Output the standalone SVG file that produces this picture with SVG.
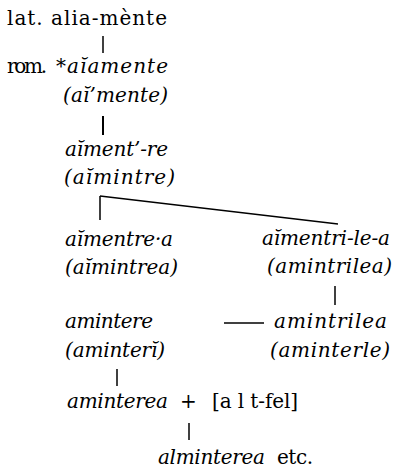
<svg xmlns="http://www.w3.org/2000/svg" width="394" height="470" viewBox="0 0 394 470">
<style>
text{font-family:"DejaVu Serif","Liberation Serif",serif;font-size:20px;fill:#000}
.i{font-style:italic}
.c line{stroke:#000;stroke-width:1.5;fill:none}
</style>
<rect width="394" height="470" fill="#fff"/>
<g class="c" id="connectors">
<line x1="103" y1="36" x2="103" y2="53"/>
<line x1="103" y1="116" x2="103" y2="135" style="stroke-width:2"/>
<line x1="100" y1="196" x2="100" y2="220"/>
<line x1="100" y1="196" x2="338" y2="224"/>
<line x1="335" y1="286" x2="335" y2="305"/>
<line x1="224" y1="323" x2="264" y2="323"/>
<line x1="117" y1="369" x2="117" y2="386"/>
<line x1="189" y1="423" x2="189" y2="440"/>
</g>
<g id="n1"><text x="7" y="25" textLength="160">lat. alia-mènte</text></g>
<g id="n2"><text x="7" y="73" textLength="40">rom.</text><text x="56" y="73" class="i" textLength="112">*aĭamente</text><text x="63" y="102" class="i" textLength="105">(aĭ’mente)</text></g>
<g id="n3"><text x="65" y="156" class="i" textLength="103">aĭment’-re</text><text x="64" y="184" class="i" textLength="111">(aĭmintre)</text></g>
<g id="n4"><text x="65" y="246" class="i" textLength="108">aĭmentre·a</text><text x="65" y="274" class="i" textLength="113">(aĭmintrea)</text></g>
<g id="n5"><text x="262" y="245" class="i" textLength="128">aĭmentri-le-a</text><text x="267" y="273" class="i" textLength="125">(amintrilea)</text></g>
<g id="n6"><text x="65" y="328" class="i" textLength="88">amintere</text><text x="65" y="357" class="i" textLength="100">(aminterĭ)</text></g>
<g id="n7"><text x="274" y="328" class="i" textLength="113">amintrilea</text><text x="270" y="357" class="i" textLength="120">(aminterle)</text></g>
<g id="n8"><text x="67" y="408" class="i" textLength="101">aminterea</text><text x="180" y="408" textLength="22">+</text><text x="212" y="408" textLength="86">[a l t-fel]</text></g>
<g id="n9"><text x="158" y="464" class="i" textLength="107">alminterea</text><text x="277" y="464" textLength="36">etc.</text></g>
</svg>
